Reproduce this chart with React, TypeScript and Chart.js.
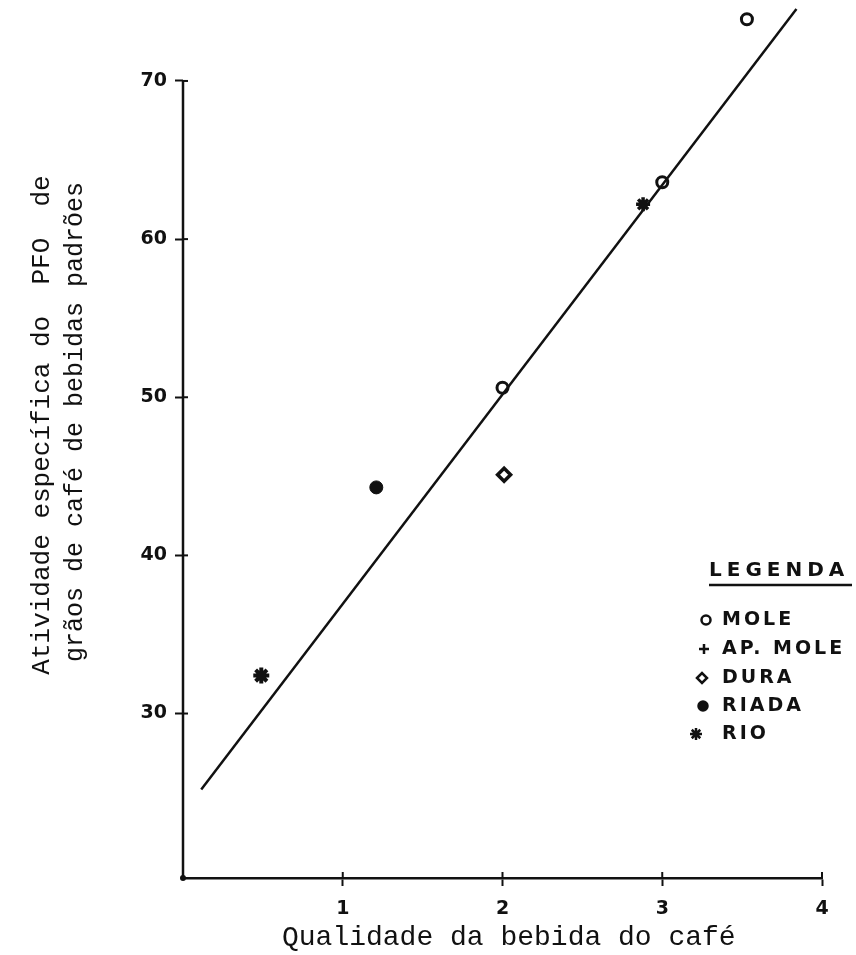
import React, { useEffect, useRef } from "react";
import { Chart, registerables } from "chart.js";
import { drawPoint } from "chart.js/helpers";

Chart.register(...registerables);

const X_TICKS = [1, 2, 3, 4];
const Y_TICKS = [30, 40, 50, 60, 70];
const X_MIN = 0;
const X_MAX = 4;
const Y_MIN = 19.6;
const Y_AXIS_TOP = 70;
const Y_MAX = 75.12;

const MOLE = [
  { x: 3.53, y: 73.9 },
  { x: 3.0, y: 63.6 },
  { x: 2.0, y: 50.6 },
];
const AP_MOLE = [{ x: 2.88, y: 62.2 }];
const DURA = [{ x: 2.01, y: 45.1 }];
const RIADA = [{ x: 1.21, y: 44.3 }];
const RIO = [{ x: 0.49, y: 32.4 }];
const FIT_LINE = [
  { x: 0.114, y: 25.2 },
  { x: 3.84, y: 74.55 },
];

const X_TITLE = "Qualidade da bebida do café";
const Y_TITLE_1 = "Atividade específica do  PFO  de";
const Y_TITLE_2 = "grãos de café de bebidas padrões";
const LEGEND_TITLE = "LEGENDA";
const LEGEND_ITEMS = [
  { label: "MOLE", style: "circle", fill: "#fff", radius: 4.5 },
  { label: "AP. MOLE", style: "cross", fill: "#111", radius: 5 },
  { label: "DURA", style: "rectRot", fill: "#fff", radius: 5 },
  { label: "RIADA", style: "circle", fill: "#111", radius: 4.5 },
  { label: "RIO", style: "star", fill: "#111", radius: 6 },
];

const INK = "#111";
const MONO = "'Liberation Mono', 'DejaVu Sans Mono', monospace";
const SANS = "'DejaVu Sans', sans-serif";

const overlayPlugin = {
  id: "overlay",
  afterDraw(chart: any) {
    const ctx: CanvasRenderingContext2D = chart.ctx;
    const xs = chart.scales.x;
    const ys = chart.scales.y;
    const x0 = xs.getPixelForValue(X_MIN);
    const yb = ys.getPixelForValue(Y_MIN);
    const yt = ys.getPixelForValue(Y_AXIS_TOP);
    ctx.save();
    ctx.strokeStyle = INK;
    ctx.fillStyle = INK;
    // y axis line (stops at 70)
    ctx.lineWidth = 2.5;
    ctx.beginPath();
    ctx.moveTo(x0, yt - 1);
    ctx.lineTo(x0, yb);
    ctx.stroke();
    ctx.lineWidth = 2;
    // inward parts of the tick marks
    Y_TICKS.forEach((v) => {
      const py = ys.getPixelForValue(v);
      ctx.beginPath();
      ctx.moveTo(x0, py);
      ctx.lineTo(x0 + 5, py);
      ctx.stroke();
    });
    X_TICKS.forEach((v) => {
      const px = xs.getPixelForValue(v);
      ctx.beginPath();
      ctx.moveTo(px, yb);
      ctx.lineTo(px, yb - 6);
      ctx.stroke();
    });
    // origin dot
    ctx.beginPath();
    ctx.arc(x0, yb, 3, 0, Math.PI * 2);
    ctx.fill();

    // x title
    ctx.font = `28px ${MONO}`;
    ctx.textAlign = "left";
    ctx.textBaseline = "alphabetic";
    ctx.fillText(X_TITLE, 282, 945);

    // y titles
    ctx.save();
    ctx.translate(42, 425);
    ctx.rotate(-Math.PI / 2);
    ctx.font = `26px ${MONO}`;
    ctx.textAlign = "center";
    ctx.textBaseline = "middle";
    ctx.fillText(Y_TITLE_1, 0, 0);
    ctx.restore();
    ctx.save();
    ctx.translate(75, 422);
    ctx.rotate(-Math.PI / 2);
    ctx.font = `25px ${MONO}`;
    ctx.textAlign = "center";
    ctx.textBaseline = "middle";
    ctx.fillText(Y_TITLE_2, 0, 0);
    ctx.restore();

    // legend
    (ctx as any).letterSpacing = "5px";
    ctx.font = `bold 20px ${SANS}`;
    ctx.textAlign = "left";
    ctx.textBaseline = "middle";
    ctx.fillText(LEGEND_TITLE, 709, 571);
    ctx.lineWidth = 2.5;
    ctx.beginPath();
    ctx.moveTo(709, 585);
    ctx.lineTo(852, 585);
    ctx.stroke();

    (ctx as any).letterSpacing = "3px";
    ctx.font = `bold 19px ${SANS}`;
    const itemY = [620, 649, 678, 706, 734];
    const markX = [706, 704, 702, 703, 696];
    LEGEND_ITEMS.forEach((it, i) => {
      ctx.fillStyle = INK;
      ctx.fillText(it.label, 722, itemY[i]);
      ctx.save();
      ctx.fillStyle = it.fill;
      ctx.strokeStyle = INK;
      ctx.lineWidth = 2.5;
      drawPoint(ctx, { pointStyle: it.style as any, radius: it.radius, rotation: 0, borderWidth: 2.5 }, markX[i], itemY[i]);
      ctx.restore();
    });
    ctx.restore();
  },
};

export default function App() {
  const ref = useRef<HTMLCanvasElement | null>(null);
  useEffect(() => {
    if (!ref.current) return;
    const pointDs = (label: string, data: any[], style: string, radius: number, fill: string, bw: number) => ({
      type: "scatter" as const,
      label,
      data,
      pointStyle: style,
      pointRadius: radius,
      pointBackgroundColor: fill,
      pointBorderColor: INK,
      pointBorderWidth: bw,
      showLine: false,
      clip: false as any,
    });
    const chart = new Chart(ref.current, {
      type: "scatter",
      data: {
        datasets: [
          {
            type: "line" as const,
            label: "fit",
            data: FIT_LINE,
            borderColor: INK,
            borderWidth: 2.5,
            pointRadius: 0,
            fill: false,
            clip: false as any,
          } as any,
          pointDs("MOLE", MOLE, "circle", 5.5, "#fff", 3),
          pointDs("AP. MOLE", AP_MOLE, "star", 7, INK, 3.5),
          pointDs("DURA", DURA, "rectRot", 6.5, "#fff", 3.5),
          pointDs("RIADA", RIADA, "circle", 6.5, INK, 1),
          pointDs("RIO", RIO, "star", 8, INK, 4),
        ],
      },
      options: {
        animation: false,
        responsive: false,
        maintainAspectRatio: false,
        layout: { autoPadding: false, padding: { left: 0, top: 0, right: 34, bottom: 0 } },
        plugins: { legend: { display: false }, tooltip: { enabled: false }, title: { display: false } },
        scales: {
          x: {
            type: "linear",
            min: X_MIN,
            max: X_MAX,
            afterBuildTicks: (s: any) => {
              s.ticks = X_TICKS.map((v) => ({ value: v }));
            },
            afterFit: (s: any) => {
              s.height = 77;
              s.paddingLeft = 0;
              s.paddingRight = 0;
            },
            border: { display: true, color: INK, width: 2.5 },
            grid: { display: true, drawOnChartArea: false, drawTicks: true, tickLength: 8, tickColor: INK, tickWidth: 2 },
            ticks: { color: INK, font: { family: SANS, size: 19, weight: "bold" }, padding: 12, autoSkip: false, maxRotation: 0 },
          },
          y: {
            type: "linear",
            min: Y_MIN,
            max: Y_MAX,
            afterBuildTicks: (s: any) => {
              s.ticks = Y_TICKS.map((v) => ({ value: v }));
            },
            afterFit: (s: any) => {
              s.width = 183;
              s.paddingTop = 0;
              s.paddingBottom = 0;
            },
            border: { display: false },
            grid: { display: true, drawOnChartArea: false, drawTicks: true, tickLength: 8, tickColor: INK, tickWidth: 2 },
            ticks: { color: INK, font: { family: SANS, size: 19, weight: "bold" }, padding: 8, autoSkip: false },
          },
        },
      } as any,
      plugins: [overlayPlugin],
    });
    return () => chart.destroy();
  }, []);
  return (
    <div style={{ position: "fixed", left: 0, top: 0, width: 856, height: 955, background: "#fff" }}>
      <canvas ref={ref} width={856} height={955} />
    </div>
  );
}
